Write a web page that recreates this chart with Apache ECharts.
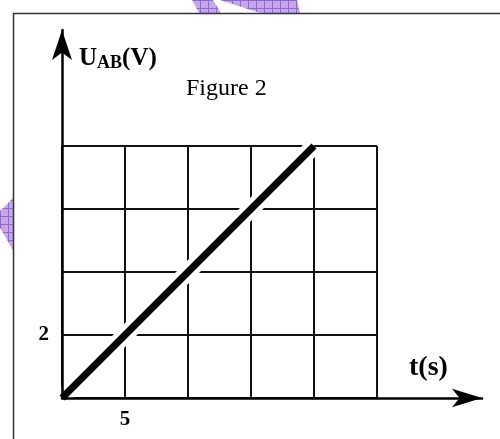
<!DOCTYPE html>
<html>
<head>
<meta charset="utf-8">
<script src="https://cdn.jsdelivr.net/npm/echarts@6/dist/echarts.min.js"></script>
<style>
html, body { margin: 0; padding: 0; background: #fff; }
#main { width: 500px; height: 439px; }
</style>
</head>
<body>
<div id="main"></div>
<script>
// U_AB against t (figure 2)
var tValues = [0, 20];
var uValues = [0, 8];
var xTickLabels = ['', '5', '', '', '', ''];   // t = 0,5,...,25
var yTickLabels = ['', '2', '', '', ''];       // U = 0,2,...,8

var points = tValues.map(function (t, i) { return [t, uValues[i]]; });

// hatched fill for the purple marks round the frame
var hatch = document.createElement('canvas');
hatch.width = 8; hatch.height = 8;
var hc = hatch.getContext('2d');
hc.fillStyle = '#c4a7ec';
hc.fillRect(0, 0, 8, 8);
hc.strokeStyle = '#9466d0';
hc.lineWidth = 1;
hc.beginPath();
hc.moveTo(0, 0.5); hc.lineTo(8, 0.5);
hc.moveTo(0.5, 0); hc.lineTo(0.5, 8);
hc.stroke();
var hatchFill = { image: hatch, repeat: 'repeat' };

var serif = '"Liberation Serif", "DejaVu Serif", serif';

var chart = echarts.init(document.getElementById('main'));

var option = {
    animation: false,
    backgroundColor: '#fff',
    title: [
        {
            text: 'Figure 2', left: 186, top: 77, padding: 0,
            textStyle: { fontFamily: serif, fontSize: 24, fontWeight: 'normal', color: '#000' }
        },
        {
            text: '{b|U}{s|AB}{b|(V)}', left: 79, top: 44, padding: 0,
            textStyle: {
                rich: {
                    b: { fontFamily: serif, fontSize: 25, fontWeight: 'bold', color: '#000', lineHeight: 30 },
                    s: { fontFamily: serif, fontSize: 18, fontWeight: 'bold', color: '#000', lineHeight: 30, padding: [9, 0, 0, 0] }
                }
            }
        },
        {
            text: 't(s)', left: 409, top: 354, padding: 0,
            textStyle: { fontFamily: serif, fontSize: 28, fontWeight: 'bold', color: '#000' }
        }
    ],
    grid: [
        { left: 62, top: 146, width: 315, height: 252 },
        { left: 62, top: 30, width: 420, height: 368 }
    ],
    xAxis: [
        {
            type: 'value', gridIndex: 0, min: 0, max: 25, interval: 5,
            axisLine: { show: false },
            axisTick: { show: false },
            axisLabel: {
                margin: 11,
                fontFamily: serif, fontSize: 21, fontWeight: 'bold', color: '#000',
                formatter: function (v) { return xTickLabels[Math.round(v / 5)]; }
            },
            splitLine: { show: true, lineStyle: { color: '#111', width: 2 } }
        },
        {
            type: 'value', gridIndex: 1, min: 0, max: 1, z: 3,
            axisLine: {
                show: true, symbol: ['none', 'arrow'], symbolSize: [14, 30],
                lineStyle: { color: '#000', width: 2.5 }
            },
            axisTick: { show: false },
            axisLabel: { show: false },
            splitLine: { show: false }
        }
    ],
    yAxis: [
        {
            type: 'value', gridIndex: 0, min: 0, max: 8, interval: 2,
            axisLine: { show: false },
            axisTick: { show: false },
            axisLabel: {
                margin: 13,
                fontFamily: serif, fontSize: 21, fontWeight: 'bold', color: '#000',
                formatter: function (v) { return yTickLabels[Math.round(v / 2)]; }
            },
            splitLine: { show: true, lineStyle: { color: '#111', width: 2 } }
        },
        {
            type: 'value', gridIndex: 1, min: 0, max: 1, z: 3,
            axisLine: {
                show: true, symbol: ['none', 'arrow'], symbolSize: [15, 30],
                lineStyle: { color: '#000', width: 2.5 }
            },
            axisTick: { show: false },
            axisLabel: { show: false },
            splitLine: { show: false }
        }
    ],
    series: [
        {
            // white gap where the line crosses the grid
            type: 'line', xAxisIndex: 0, yAxisIndex: 0, z: 2,
            data: points, symbol: 'none', silent: true,
            lineStyle: { color: '#fff', width: 17 }
        },
        {
            type: 'line', xAxisIndex: 0, yAxisIndex: 0, z: 4,
            data: points, symbol: 'none',
            lineStyle: { color: '#000', width: 7 }
        }
    ],
    graphic: [
        { type: 'polygon', shape: { points: [[192, 0], [213, 0], [221, 13], [199, 13]] }, style: { fill: hatchFill } },
        { type: 'polygon', shape: { points: [[220, 0], [297, 0], [300, 13], [260, 13]] }, style: { fill: hatchFill } },
        { type: 'polygon', shape: { points: [[0, 211], [13, 198], [13, 250], [0, 228]] }, style: { fill: hatchFill } },
        {
            type: 'polyline', z: 10,
            shape: { points: [[13.5, 439], [13.5, 13.5], [500, 13.5]] },
            style: { stroke: '#333', lineWidth: 1.5, fill: null }
        }
    ]
};

chart.setOption(option);
</script>
</body>
</html>
